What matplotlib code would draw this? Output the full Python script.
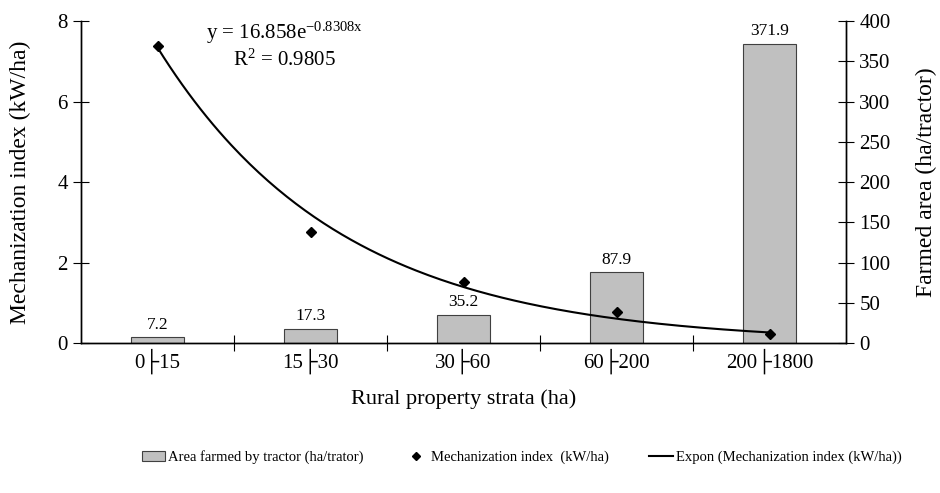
import numpy as np
import matplotlib
matplotlib.use("Agg")
import matplotlib.pyplot as plt
from matplotlib.patches import Patch
from matplotlib.lines import Line2D

plt.rcParams['font.family'] = ['Liberation Serif', 'DejaVu Serif']
plt.rcParams['mathtext.fontset'] = 'custom'
plt.rcParams['mathtext.rm'] = 'Liberation Serif'
plt.rcParams['mathtext.it'] = 'Liberation Serif'

strata = ['0├15', '15├30', '30├60', '60├200', '200├1800']
area_per_tractor = [7.2, 17.3, 35.2, 87.9, 371.9]
mech_index = [7.39, 2.76, 1.51, 0.78, 0.22]
fit_a = 16.858
fit_b = -0.8308

x = np.arange(len(strata))

fig = plt.figure(figsize=(9.4, 4.93), dpi=100)
ax = fig.add_axes([0.0862, 0.304, 0.8138, 0.653])
ax2 = ax.twinx()
ax.set_zorder(ax2.get_zorder() + 1)
ax.patch.set_visible(False)

bars = ax2.bar(x, area_per_tractor, width=0.35, color='#c0c0c0',
               edgecolor='#404040', linewidth=0.8)
for xi, v in zip(x, area_per_tractor):
    ax2.text(xi, v + 6, f'{v:.1f}', ha='center', va='bottom', fontsize=12.5)

# exponential trendline from the displayed equation (Excel x = 1..5)
xs = np.linspace(0, len(strata) - 1, 200)
ax.plot(xs, fit_a * np.exp(fit_b * (xs + 1)), color='black', lw=1.5)
ax.plot(x, mech_index, linestyle='none', marker='D', color='black', markersize=5)

ax.set_xlim(-0.5, len(strata) - 0.5)
ax.set_ylim(0, 8)
ax2.set_ylim(0, 400)
ax.set_yticks([0, 2, 4, 6, 8])
ax2.set_yticks(range(0, 401, 50))
ax.set_xticks(x)
ax.set_xticklabels(strata)
ax.set_xticks(np.arange(0.5, len(strata) - 1, 1), minor=True)
ax.tick_params(axis='x', which='major', length=0, labelsize=15, pad=4)
ax.tick_params(axis='x', which='minor', direction='inout', length=11, width=0.8)
ax.tick_params(axis='y', direction='inout', length=11, width=0.8, labelsize=15, pad=4)
ax2.tick_params(axis='y', direction='inout', length=11, width=0.8, labelsize=15, pad=4)

for a in (ax, ax2):
    a.spines['top'].set_visible(False)
    for s in ('left', 'right', 'bottom'):
        a.spines[s].set_linewidth(1.0)

ax.set_ylabel('Mechanization index (kW/ha)', fontsize=17, labelpad=19)
ax2.set_ylabel('Farmed area (ha/tractor)', fontsize=17, labelpad=18)
ax.set_xlabel('Rural property strata (ha)', fontsize=16, labelpad=11)

ax.text(0.83, 7.70, r'y = 16.858e$^{\mathrm{-0.8308x}}$', ha='center', va='center', fontsize=15)
ax.text(0.83, 7.04, r'R$^{\mathrm{2}}$ = 0.9805', ha='center', va='center', fontsize=15)

handles = [
    Patch(facecolor='#c0c0c0', edgecolor='#404040', linewidth=0.8),
    Line2D([], [], linestyle='none', marker='D', color='black', markersize=4),
    Line2D([], [], color='black', lw=1.5),
]
labels = ['Area farmed by tractor (ha/trator)', 'Mechanization index  (kW/ha)',
          'Expon (Mechanization index (kW/ha))']
fig.legend(handles, labels, loc='center', bbox_to_anchor=(0.555, 0.073), ncol=3,
           frameon=False, fontsize=10.5, handlelength=1.6, handletextpad=0.2,
           columnspacing=2.8)

fig.savefig('out.png', dpi=100)
